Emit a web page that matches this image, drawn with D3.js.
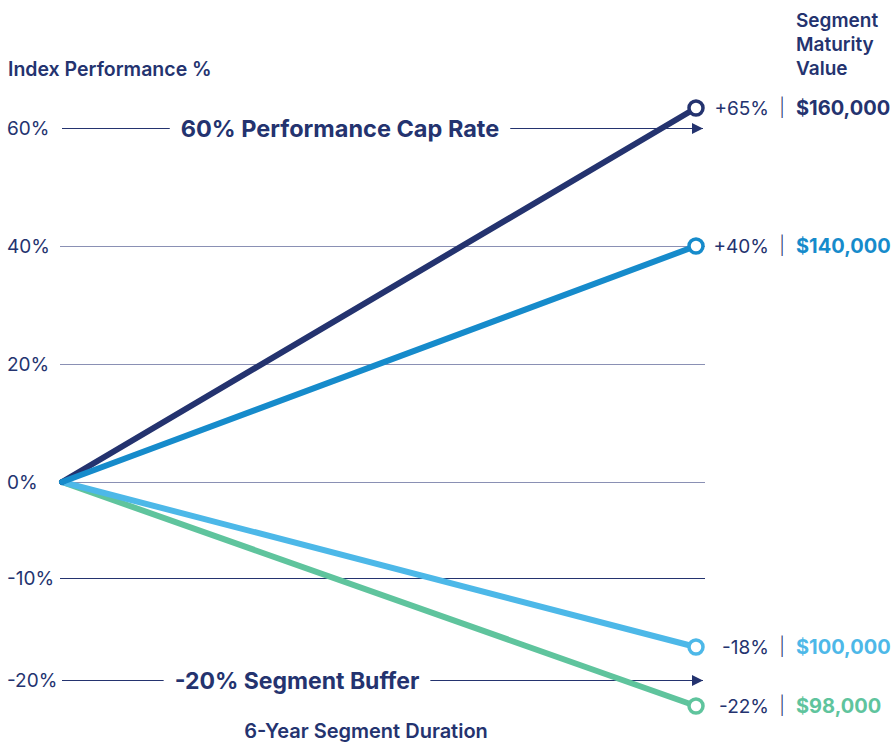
<!DOCTYPE html>
<html>
<head>
<meta charset="utf-8">
<script src="https://cdn.jsdelivr.net/npm/d3@7"></script>
<style>
  html, body { margin: 0; padding: 0; background: #fff; }
  svg { display: block; font-family: Inter, "Open Sans", sans-serif; }
</style>
</head>
<body>
<svg id="chart" width="895" height="742"></svg>
<script>
// Index performance scenarios over a 6-year segment
const years = [0, 6];
const scenarioNames = ["Strong", "Moderate", "Mild decline", "Deep decline"];
const startValues = [0, 0, 0, 0];
const endValues = [65, 40, -18, -22];
const endLabels = ["+65%", "+40%", "-18%", "-22%"];
const maturityValues = ["$160,000", "$140,000", "$100,000", "$98,000"];
const scenarioColors = ["#24336f", "#168bcb", "#4db8e8", "#5fc49d"];

const tickValues = [60, 40, 20, 0, -10, -20];
const tickLabels = ["60%", "40%", "20%", "0%", "-10%", "-20%"];
const capRate = 60;
const buffer = -20;

const navy = "#24336f";
const gridColor = "#8a90b4";

const svg = d3.select("#chart");

// The axis is drawn schematically: each band has its own spacing
const y = d3.scaleLinear()
  .domain([-22, -20, -18, -10, 0, 20, 40, 60, 65])
  .range([706, 680, 647, 578, 482, 364, 246, 128, 108]);
const x = d3.scaleLinear().domain([0, 6]).range([62, 696]);
const gridX0 = 60, gridX1 = 705;

// Axis title
svg.append("text")
  .attr("x", 8).attr("y", 76)
  .attr("fill", navy).attr("font-size", 19.5).attr("font-weight", 600)
  .text("Index Performance %");

// Right-hand column title
["Segment", "Maturity", "Value"].forEach((t, i) => {
  svg.append("text")
    .attr("x", 796).attr("y", 27 + i * 24)
    .attr("fill", navy).attr("font-size", 19).attr("font-weight", 600)
    .text(t);
});

// Tick labels
svg.selectAll("text.tick")
  .data(tickValues)
  .join("text")
  .attr("class", "tick")
  .attr("x", 7)
  .attr("y", d => y(d))
  .attr("dy", "0.35em")
  .attr("fill", navy)
  .attr("font-size", 19)
  .attr("font-weight", 400)
  .text((d, i) => tickLabels[i]);

// Plain gridlines
svg.selectAll("line.grid")
  .data(tickValues.filter(d => d !== capRate && d !== buffer))
  .join("line")
  .attr("class", "grid")
  .attr("x1", gridX0).attr("x2", gridX1)
  .attr("y1", d => Math.round(y(d)) + 0.5)
  .attr("y2", d => Math.round(y(d)) + 0.5)
  .attr("stroke", d => d === -10 ? navy : gridColor)
  .attr("stroke-width", 1);

// Arrow marker
svg.append("defs").append("marker")
  .attr("id", "arrow")
  .attr("viewBox", "0 0 10 10")
  .attr("refX", 10).attr("refY", 5)
  .attr("markerWidth", 11).attr("markerHeight", 11)
  .attr("markerUnits", "userSpaceOnUse")
  .attr("orient", "auto")
  .append("path")
  .attr("d", "M0,0 L10,5 L0,10 Z")
  .attr("fill", navy);

// Labelled limit lines (cap and buffer)
function limitLine(value, label, cx, size) {
  const yy = Math.round(y(value)) + 0.5;
  const t = svg.append("text")
    .attr("x", cx).attr("y", yy)
    .attr("dy", "0.35em")
    .attr("text-anchor", "middle")
    .attr("fill", navy).attr("font-size", size).attr("font-weight", 700)
    .text(label);
  const w = t.node().getComputedTextLength();
  const gap = 11;
  svg.append("line")
    .attr("x1", 62).attr("x2", cx - w / 2 - gap)
    .attr("y1", yy).attr("y2", yy)
    .attr("stroke", navy).attr("stroke-width", 1.2);
  svg.append("line")
    .attr("x1", cx + w / 2 + gap).attr("x2", 703)
    .attr("y1", yy).attr("y2", yy)
    .attr("stroke", navy).attr("stroke-width", 1.2)
    .attr("marker-end", "url(#arrow)");
}
limitLine(capRate, "60% Performance Cap Rate", 340, 23.5);
limitLine(buffer, "-20% Segment Buffer", 297, 23);

// Scenario lines
const series = scenarioNames.map((name, i) => ({
  name,
  color: scenarioColors[i],
  points: [
    { t: years[0], v: startValues[i] },
    { t: years[1], v: endValues[i] }
  ],
  label: endLabels[i],
  value: maturityValues[i]
}));

const line = d3.line().x(d => x(d.t)).y(d => y(d.v));

// draw bottom series first so the top ones sit above at the origin
const order = [3, 2, 0, 1];
order.forEach(i => {
  const s = series[i];
  svg.append("path")
    .attr("d", line(s.points))
    .attr("fill", "none")
    .attr("stroke", s.color)
    .attr("stroke-width", 6)
    .attr("stroke-linecap", "round");
});

// End markers and labels
series.forEach(s => {
  const end = s.points[1];
  const ex = x(end.t), ey = y(end.v);
  svg.append("circle")
    .attr("cx", ex).attr("cy", ey).attr("r", 7)
    .attr("fill", "#fff")
    .attr("stroke", s.color).attr("stroke-width", 3.5);
  svg.append("text")
    .attr("x", 769).attr("y", ey).attr("dy", "0.35em")
    .attr("text-anchor", "end")
    .attr("fill", navy).attr("font-size", 19).attr("font-weight", 400)
    .text(s.label);
  svg.append("text")
    .attr("x", 782).attr("y", ey).attr("dy", "0.35em")
    .attr("text-anchor", "middle")
    .attr("fill", navy).attr("font-size", 18).attr("font-weight", 300)
    .text("|");
  svg.append("text")
    .attr("x", 796).attr("y", ey).attr("dy", "0.35em")
    .attr("fill", s.color === scenarioColors[0] ? navy : s.color)
    .attr("font-size", 20).attr("font-weight", 700)
    .text(s.value);
});

// X-axis title
svg.append("text")
  .attr("x", 366).attr("y", 738)
  .attr("text-anchor", "middle")
  .attr("fill", navy).attr("font-size", 20).attr("font-weight", 600)
  .text("6-Year Segment Duration");
</script>
</body>
</html>
